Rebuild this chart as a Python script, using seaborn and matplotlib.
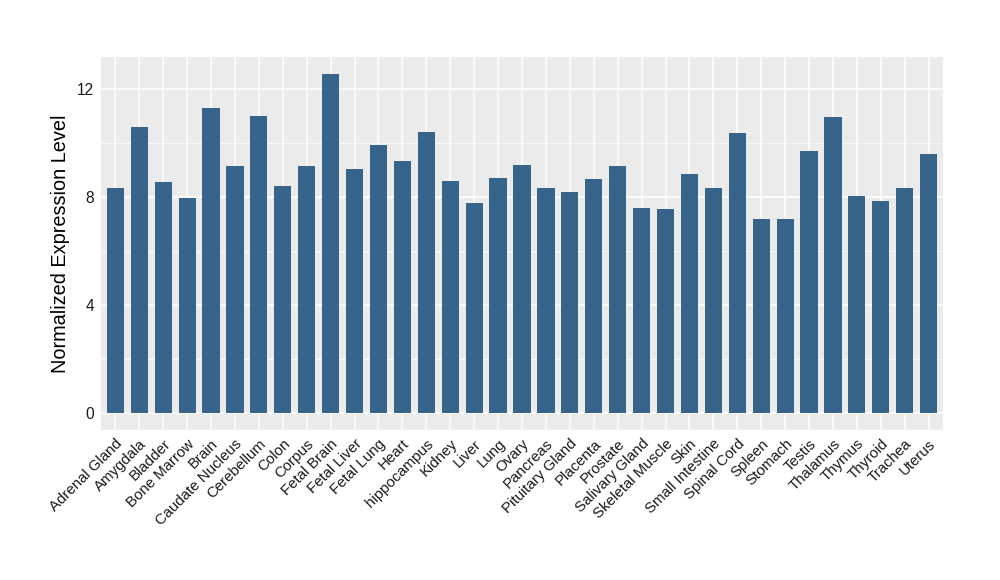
import matplotlib
matplotlib.use("Agg")
import matplotlib.pyplot as plt
import pandas as pd
import seaborn as sns

tissues = [
    "Adrenal Gland", "Amygdala", "Bladder", "Bone Marrow", "Brain",
    "Caudate Nucleus", "Cerebellum", "Colon", "Corpus", "Fetal Brain",
    "Fetal Liver", "Fetal Lung", "Heart", "hippocampus", "Kidney", "Liver",
    "Lung", "Ovary", "Pancreas", "Pituitary Gland", "Placenta", "Prostate",
    "Salivary Gland", "Skeletal Muscle", "Skin", "Small Intestine",
    "Spinal Cord", "Spleen", "Stomach", "Testis", "Thalamus", "Thymus",
    "Thyroid", "Trachea", "Uterus",
]
expression = [
    8.34, 10.60, 8.56, 7.97, 11.30, 9.12, 11.00, 8.41, 9.12, 12.55,
    9.01, 9.93, 9.34, 10.41, 8.60, 7.75, 8.71, 9.19, 8.34, 8.16,
    8.64, 9.15, 7.60, 7.53, 8.86, 8.34, 10.37, 7.19, 7.19, 9.71,
    10.96, 8.04, 7.86, 8.34, 9.60,
]
y_ticks = [0, 4, 8, 12]

df = pd.DataFrame({"tissue": tissues, "expr": expression})

# ggplot-like grey panel
sns.set_theme(style="darkgrid", rc={
    "axes.facecolor": "#EBEBEB",
    "grid.color": "white",
    "axes.edgecolor": "#EBEBEB",
})
plt.rcParams["font.family"] = ["Liberation Sans", "DejaVu Sans"]

fig = plt.figure(figsize=(10, 5.8), dpi=100)
ax = fig.add_axes([0.101, 0.259, 0.842, 0.643])

sns.barplot(data=df, x="tissue", y="expr", color="#36648B", width=0.72,
            saturation=1, linewidth=0, ax=ax, zorder=3)

ax.set_ylim(-0.63, 13.18)
ax.set_xlim(-0.6, len(tissues) - 0.4)
ax.set_yticks(y_ticks)
ax.set_yticks([2, 6, 10], minor=True)
ax.grid(True, which="major", color="white", linewidth=1.1, zorder=0)
ax.grid(True, which="minor", axis="y", color="white", linewidth=0.5, zorder=0)
for s in ax.spines.values():
    s.set_visible(False)

ax.tick_params(axis="both", which="major", length=3, width=0.8,
               color="#333333", labelcolor="#1A1A1A", pad=2)
ax.tick_params(axis="both", which="minor", length=0)
ax.set_xticks(range(len(tissues)))
ax.set_xticklabels(tissues, rotation=45, ha="right", rotation_mode="anchor",
                   fontsize=10.8, color="#1A1A1A")
for lab in ax.get_yticklabels():
    lab.set_fontsize(11.2)

ax.set_xlabel("")
ax.set_ylabel("Normalized Expression Level", fontsize=14.3, color="black",
              labelpad=5)

fig.savefig("out.png", dpi=100)
